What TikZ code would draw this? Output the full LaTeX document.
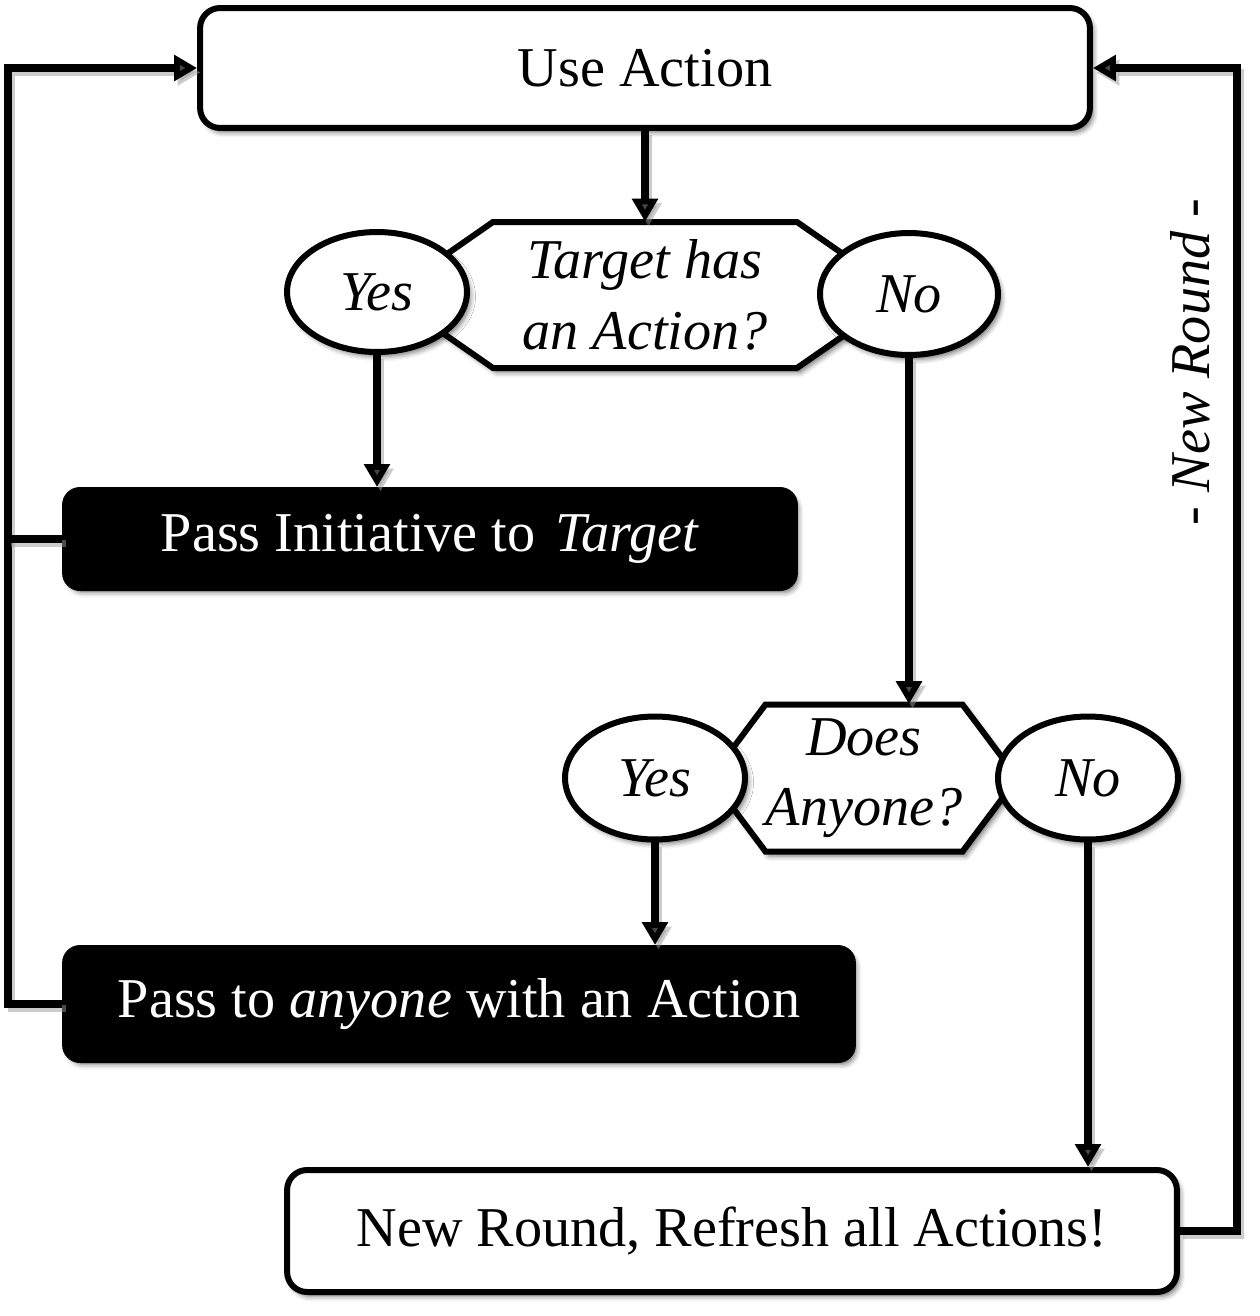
\documentclass[tikz,border=0pt]{standalone}
\usepackage{fontspec}
\setmainfont{Liberation Serif}
\usetikzlibrary{shapes.geometric,shadows.blur,arrows.meta,calc}
\begin{document}
\begin{tikzpicture}[x=0.02cm,y=-0.02cm,
  every node/.style={font=\fontsize{32}{40}\selectfont, inner sep=0pt},
  shad/.style={blur shadow={shadow xshift=0.07cm, shadow yshift=-0.09cm, shadow blur radius=0.1cm, shadow opacity=55}},
  whitebox/.style={draw=black, fill=white, line width=0.12cm, rounded corners=0.4cm, shad},
  blackbox/.style={draw=black, fill=black, text=white, line width=0.12cm, rounded corners=0.3cm, shad},
  choice/.style={ellipse, draw=black, fill=white, line width=0.12cm, shad, font=\fontsize{32}{40}\selectfont\itshape},
  hextext/.style={align=center, font=\fontsize{32}{40}\selectfont\itshape},
  hexline/.style={draw=black, fill=white, line width=0.12cm, line join=miter, shad},
  conn/.style={line width=0.15cm, line join=miter, preaction={draw=black!40, opacity=0.5, line width=0.15cm, transform canvas={xshift=0.07cm, yshift=-0.09cm}}},
  arr/.style={conn, -{Triangle[length=0.46cm, width=0.5cm]}},
]
\useasboundingbox (0,0) rectangle (1260,1316);

% nodes
\node[whitebox, minimum width=17.8cm, minimum height=2.4cm] (use) at (645,68) {Use Action};

\draw[hexline] (493,222) -- (797,222) -- (902,295) -- (797,368) -- (493,368) -- (388,295) -- cycle;
\node[hextext, minimum width=6.08cm, minimum height=2.92cm] (h1) at (645,295) {Target has\\an Action?};
\node[choice, minimum width=3.6cm, minimum height=2.4cm] (yes1) at (377,292) {Yes};
\node[choice, minimum width=3.56cm, minimum height=2.44cm] (no1) at (909,294) {No};

\node[blackbox, minimum width=14.6cm, minimum height=1.96cm] (pi) at (430,539) {Pass Initiative to\hspace{0.35em}\textit{Target}};

\draw[hexline] (765.5,704.5) -- (962.5,704.5) -- (1017.5,778) -- (962.5,851.5) -- (765.5,851.5) -- (710.5,778) -- cycle;
\node[hextext, minimum width=3.94cm, minimum height=2.94cm] (h2) at (864,778) {Does\\Anyone?};
\node[choice, minimum width=3.6cm, minimum height=2.46cm] (yes2) at (655,778) {Yes};
\node[choice, minimum width=3.6cm, minimum height=2.46cm] (no2) at (1088,778) {No};

\node[blackbox, minimum width=15.76cm, minimum height=2.24cm] (pa) at (459,1004) {Pass to \textit{anyone} with an Action};

\node[whitebox, minimum width=17.8cm, minimum height=2.44cm] (nr) at (732,1231) {New Round, Refresh all Actions!};

\node[rotate=90, font=\fontsize{32}{40}\selectfont\itshape] (lbl) at (1190,362) {- New Round -};

\coordinate (lx) at (8,0);
\coordinate (rx) at (1237,0);

% connectors
\draw[arr] (use) -- (h1);
\draw[arr] (yes1) -- (yes1 |- pi.north);
\draw[arr] (no1) -- (no1 |- h2.north);
\draw[arr] (yes2) -- (yes2 |- pa.north);
\draw[arr] (no2) -- (no2 |- nr.north);
\draw[arr] (pa.west) -- (pa.west -| lx) |- (use.west);
\draw[conn] (pi.west) -- (pi.west -| lx);
\draw[arr] (nr.east) -- (nr.east -| rx) |- (use.east);
\end{tikzpicture}
\end{document}
